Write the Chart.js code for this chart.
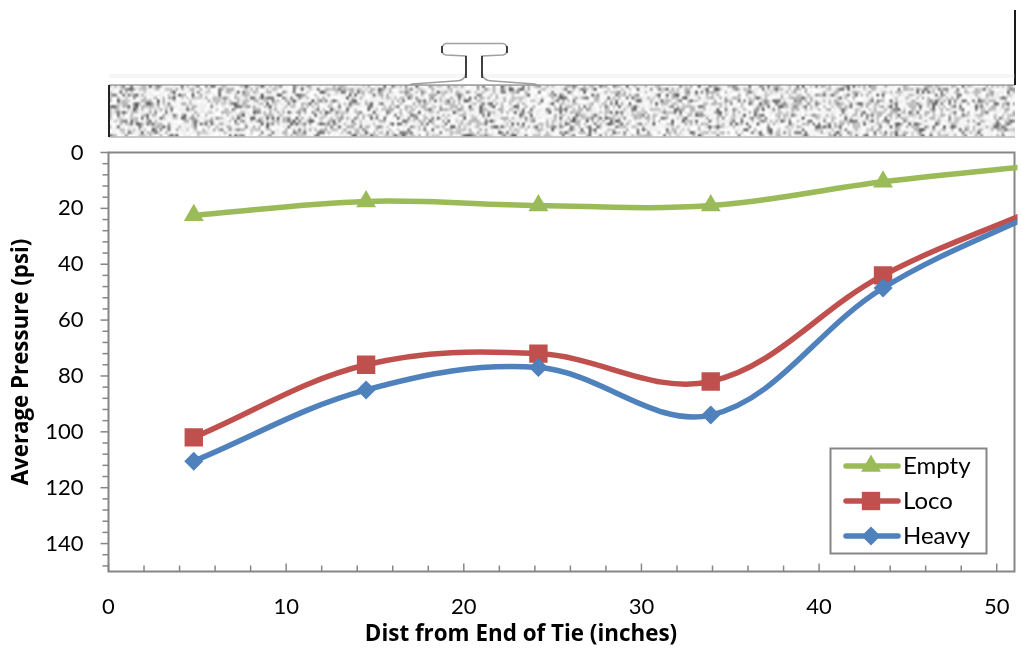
<!DOCTYPE html>
<html><head><meta charset="utf-8">
<script src="https://cdn.jsdelivr.net/npm/chart.js@4"></script>
<style>html,body{margin:0;padding:0;background:#fff}#w{width:1022px;height:651px}</style>
</head><body><div id="w"><canvas id="c" width="1022" height="651"></canvas></div>
<script>
const xPositions = [4.8, 14.5, 24.2, 33.9, 43.6, 53.3];
const seriesNames = ['Empty', 'Loco', 'Heavy'];
const emptyValues = [22.5, 17.5, 19, 19, 10.5, 4];
const locoValues = [102, 76, 72, 82, 44, 17.5];
const heavyValues = [110.5, 85, 77, 94, 48.5, 18.5];
const seriesColors = ['#9BBB59', '#C0504D', '#4F81BD'];
const markerStyles = ['triangle', 'rect', 'rectRot'];
const markerRadii = [11.5, 13, 9.5];
const xTitle = 'Dist from End of Tie (inches)';
const yTitle = 'Average Pressure (psi)';
const FONT = 'Lato, Carlito, sans-serif';
const TITLE_FONT = '"Open Sans", sans-serif';
const AXIS = '#868686';

function pts(vals){ return xPositions.map((x,i)=>({x, y: vals[i]})); }
function ds(i, vals, order){
  return {label: seriesNames[i], data: pts(vals), borderColor: seriesColors[i], backgroundColor: seriesColors[i],
    borderWidth: 5.5, tension: 0.36, pointStyle: markerStyles[i], pointRadius: markerRadii[i], pointBorderWidth: 0,
    pointBackgroundColor: seriesColors[i], order, clip: {left:false, top:false, bottom:false, right:3}};
}

function speckle(w, h){
  const c = document.createElement('canvas'); c.width = w; c.height = h;
  const g = c.getContext('2d'); const im = g.createImageData(w, h);
  let s = 48271;
  const r = () => (s = (s * 16807) % 2147483647) / 2147483647;
  for (let i = 0; i < w * h; i++){
    const a = r(); const v = a < 0.12 ? 90 + r()*60 : a < 0.42 ? 175 + r()*35 : 235 + r()*20;
    im.data[i*4] = im.data[i*4+1] = im.data[i*4+2] = v; im.data[i*4+3] = 255;
  }
  g.putImageData(im, 0, 0); return c;
}
const tex = speckle(340, 18);

const decor = {
  id: 'decor',
  beforeDraw(chart){
    const g = chart.ctx; g.save();
    g.fillStyle = '#fff'; g.fillRect(0,0,chart.width,chart.height);
    // tie
    g.imageSmoothingEnabled = true; g.imageSmoothingQuality = 'high';
    g.drawImage(tex, 109, 85, 906, 52);
    g.fillStyle = 'rgba(120,120,120,.5)'; g.fillRect(109,84,906,2);
    g.fillStyle = 'rgba(190,190,190,.8)'; g.fillRect(109,136,906,2);
    g.fillStyle = '#222'; g.fillRect(108,85,2,52);
    g.fillStyle = '#1a1a1a'; g.fillRect(1014,10,2,75);
    g.fillStyle = 'rgba(215,215,215,.22)'; g.fillRect(109,74,906,4);
    // rail
    g.filter = 'blur(0.7px)';
    g.fillStyle = '#fff'; g.strokeStyle = '#a0a0a0'; g.lineWidth = 1.5;
    g.beginPath();
    g.moveTo(410,85); g.lineTo(412,84); g.lineTo(455,81); g.quadraticCurveTo(466,81,466,72);
    g.lineTo(466,56); g.lineTo(446,55); g.quadraticCurveTo(442,54,442,50); g.quadraticCurveTo(442,44,446,43.5);
    g.lineTo(503,43.5); g.quadraticCurveTo(507,44,507,50); g.quadraticCurveTo(507,54,503,55);
    g.lineTo(482,56); g.lineTo(482,72); g.quadraticCurveTo(482,81,493,81); g.lineTo(535,84); g.lineTo(537,85);
    g.closePath(); g.fill(); g.stroke();
    g.strokeStyle = '#222'; g.lineWidth = 1.6;
    [[466,56,466,78],[482,56,482,78],[442,46,442,53],[507,46,507,53]].forEach(l=>{g.beginPath();g.moveTo(l[0],l[1]);g.lineTo(l[2],l[3]);g.stroke();});
    g.filter = 'none';
    g.restore();
  },
  beforeDatasetsDraw(chart){
    const g = chart.ctx, a = chart.chartArea, x = chart.scales.x, y = chart.scales.y;
    g.save(); g.strokeStyle = AXIS; g.lineWidth = 2;
    g.strokeRect(a.left, a.top, a.right - a.left, a.bottom - a.top);
    g.lineWidth = 1.5;
    x.ticks.forEach(t=>{ const p = x.getPixelForValue(t.value), L = t.value % 10 === 0 ? 8 : 6;
      g.beginPath(); g.moveTo(p, a.bottom); g.lineTo(p, a.bottom - L); g.stroke(); });
    y.ticks.forEach(t=>{ const p = y.getPixelForValue(t.value), L = t.value % 20 === 0 ? 8 : 6;
      g.beginPath(); g.moveTo(a.left, p); g.lineTo(a.left - L, p); g.stroke(); });
    g.restore();
  },
  afterDraw(chart){
    const g = chart.ctx; g.save();
    // x axis title sits left of the plot centre in the reference
    g.fillStyle = '#000'; g.font = 'bold 22.4px ' + TITLE_FONT; g.textAlign = 'center'; g.textBaseline = 'middle';
    g.fillText(xTitle, 521, 635);
    g.restore();
    // legend
    g.save();
    g.fillStyle = '#fff'; g.fillRect(830.5, 448.5, 156, 105);
    g.strokeStyle = AXIS; g.lineWidth = 2; g.strokeRect(830.5, 448.5, 156, 105);
    const rowY = [466, 501, 536];
    chart.data.datasets.forEach((d,i)=>{
      const yy = rowY[i];
      g.strokeStyle = d.borderColor; g.lineWidth = 5.5; g.lineCap = 'round';
      g.beginPath(); g.moveTo(846, yy); g.lineTo(898, yy); g.stroke();
      g.fillStyle = d.borderColor;
      g.beginPath();
      Chart.helpers.drawPoint(g, {pointStyle: d.pointStyle, radius: d.pointRadius, rotation: 0, borderWidth: 0}, 871, yy);
      g.fillStyle = '#000'; g.font = '24px ' + FONT; g.textAlign = 'left'; g.textBaseline = 'middle';
      g.fillText(d.label, 903, yy);
    });
    g.restore();
  }
};

function noPad(s){ s.paddingLeft = s.paddingRight = s.paddingTop = s.paddingBottom = 0; }

new Chart(document.getElementById('c'), {
  type: 'line',
  data: {datasets: [ds(0, emptyValues, 2), ds(1, locoValues, 1), ds(2, heavyValues, 0)]},
  options: {
    responsive: false, animation: false, devicePixelRatio: 1,
    layout: {autoPadding: false, padding: {left: 0, top: 152.5, right: 7.5, bottom: 0}},
    plugins: {legend: {display: false}, title: {display: false}, tooltip: {enabled: false}},
    scales: {
      x: {type: 'linear', min: 0, max: 51, border: {display: false},
        grid: {display: true, drawOnChartArea: false, drawTicks: false},
        afterFit(s){ s.height = 79.5; noPad(s); },
        ticks: {stepSize: 2, includeBounds: false, autoSkip: false, maxRotation: 0, padding: 22, color: '#000', font: {family: FONT, size: 22},
          callback: v => (v % 10 === 0 ? String(v) : '')}},
      y: {type: 'linear', reverse: true, min: 0, max: 150, border: {display: false},
        grid: {display: true, drawOnChartArea: false, drawTicks: false},
        afterFit(s){ s.width = 108.5; noPad(s); },
        title: {display: true, text: yTitle, color: '#000', font: {family: TITLE_FONT, size: 22.3, weight: 'bold'}, padding: {top: 8, bottom: 0}},
        ticks: {stepSize: 4, includeBounds: false, autoSkip: false, padding: 25, color: '#000', font: {family: FONT, size: 22},
          callback: v => (v % 20 === 0 && v <= 140 ? String(v) : '')}}
    }
  },
  plugins: [decor]
});
</script></body></html>
